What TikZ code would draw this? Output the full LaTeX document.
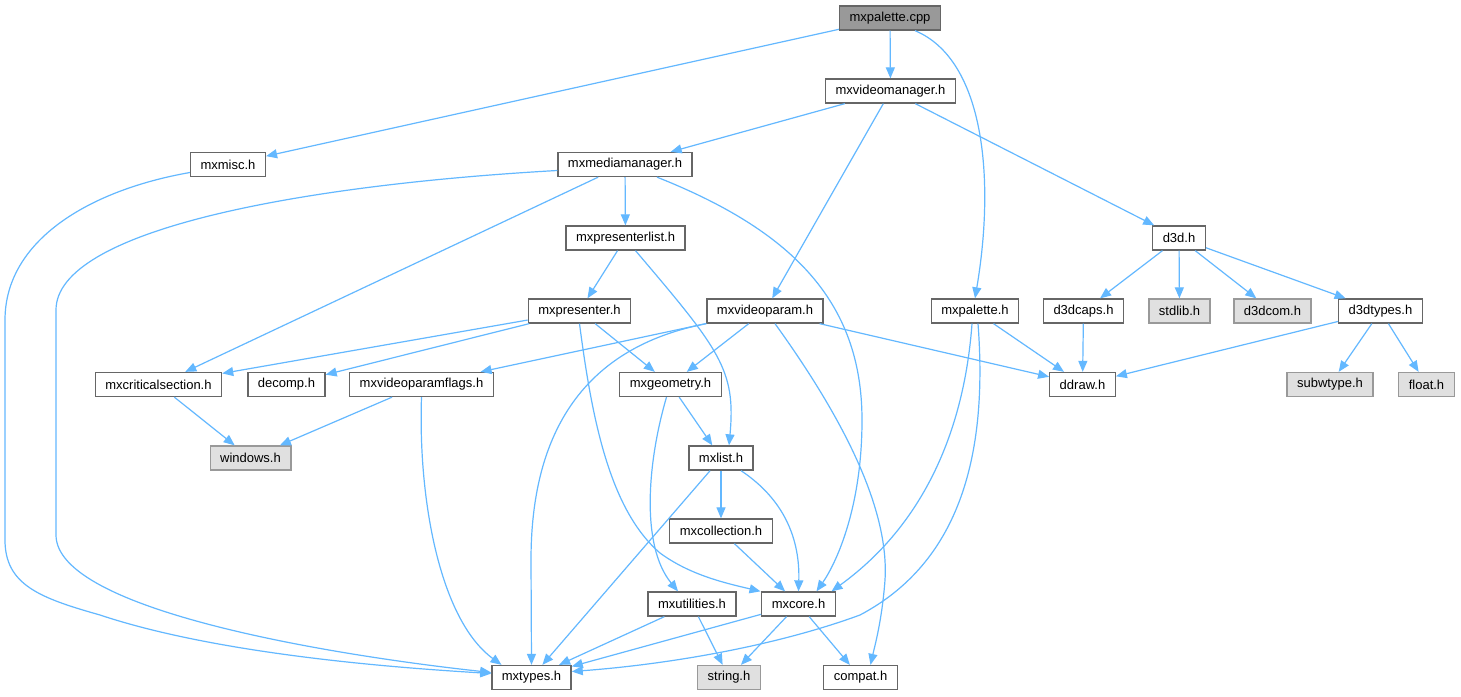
\documentclass[tikz,border=0pt]{standalone}
\usepackage{fontspec}
\setmainfont{Liberation Sans}
\usepackage{tikz}
\usetikzlibrary{arrows.meta}
\definecolor{edgeblue}{HTML}{63B8FF}
\definecolor{boxline}{HTML}{666666}
\definecolor{sysline}{HTML}{999999}
\definecolor{sysfill}{HTML}{E0E0E0}
\definecolor{rootfill}{HTML}{999999}

\begin{document}
\begin{tikzpicture}[x=1pt, y=-1pt,
    hdr/.style={draw=boxline, line width=1.3pt, fill=white, inner xsep=10pt, inner ysep=0pt,
      minimum height=24pt, font=\fontsize{13}{15}\selectfont},
    syshdr/.style={hdr, draw=sysline, fill=sysfill},
    roothdr/.style={hdr, fill=rootfill},
    dep/.style={draw=edgeblue, line width=1.2pt, -{Triangle[length=11pt,width=9pt]}}]
        \fill[white] (0,0) rectangle (1461,696);
        \useasboundingbox (0,0) rectangle (1461,696);
        %% \draw[step=73.3,gray,very thin] (0,18) grid (1461,696);
        \node[roothdr] (cpp)     at ( 890   ,  18   ) {mxpalette.cpp};
        \node[hdr]     (vman)    at ( 890.5 ,  91   ) {mxvideomanager.h};
        \node[hdr]     (misc)    at ( 228   , 164.5 ) {mxmisc.h};
        \node[hdr]     (mm)      at ( 625   , 164.5 ) {mxmediamanager.h};
        \node[hdr]     (plist)   at ( 625.5 , 238   ) {mxpresenterlist.h};
        \node[hdr]     (dthree)  at (1179   , 238   ) {d3d.h};
        \node[hdr]     (pres)    at ( 579.5 , 311   ) {mxpresenter.h};
        \node[hdr]     (vparam)  at ( 765   , 311   ) {mxvideoparam.h};
        \node[hdr]     (pal)     at ( 975   , 311   ) {mxpalette.h};
        \node[hdr]     (dcaps)   at (1083.5 , 311   ) {d3dcaps.h};
        \node[syshdr]  (stdlib)  at (1179.5 , 311   ) {stdlib.h};
        \node[syshdr]  (dcom)    at (1272.5 , 311   ) {d3dcom.h};
        \node[hdr]     (dtypes)  at (1380.5 , 311   ) {d3dtypes.h};
        \node[hdr]     (crit)    at ( 158.5 , 384.5 ) {mxcriticalsection.h};
        \node[hdr]     (decomp)  at ( 286.5 , 384.5 ) {decomp.h};
        \node[hdr]     (vpflags) at ( 421.5 , 384.5 ) {mxvideoparamflags.h};
        \node[hdr]     (geom)    at ( 670.5 , 384.5 ) {mxgeometry.h};
        \node[hdr]     (ddraw)   at (1082.5 , 384.5 ) {ddraw.h};
        \node[syshdr]  (subw)    at (1330   , 384.5 ) {subwtype.h};
        \node[syshdr]  (flt)     at (1426.5 , 384.5 ) {float.h};
        \node[syshdr]  (win)     at ( 250.5 , 458   ) {windows.h};
        \node[hdr]     (list)    at ( 721   , 458   ) {mxlist.h};
        \node[hdr]     (coll)    at ( 721   , 531   ) {mxcollection.h};
        \node[hdr]     (util)    at ( 692   , 604   ) {mxutilities.h};
        \node[hdr]     (core)    at ( 798.5 , 604   ) {mxcore.h};
        \node[hdr]     (types)   at ( 531.5 , 677.5 ) {mxtypes.h};
        \node[syshdr]  (str)     at ( 729   , 677.5 ) {string.h};
        \node[hdr]     (compat)  at ( 860.5 , 677.5 ) {compat.h};

        \draw[dep] (cpp) -- (misc);
        \draw[dep] (cpp) -- (vman);
        \draw[dep] ([xshift=25pt]cpp.south) .. controls (985,60) and (995,180) .. (pal.north);
        \draw[dep] (vman) -- (mm);
        \draw[dep] (vman) -- (vparam);
        \draw[dep] (vman) -- (dthree);
        \draw[dep] ([yshift=-8pt]misc.west) .. controls (90,190) and (5,240) .. (5,320) -- (5,540)
            .. controls (5,585) and (40,598) .. (100,615) .. controls (220,655) and (400,668) .. ([yshift=4pt]types.west);
        \draw[dep] ([yshift=-6pt]mm.west) .. controls (300,185) and (56,230) .. (56,310) -- (56,535)
            .. controls (56,610) and (330,655) .. ([yshift=5pt]types.west);
        \draw[dep] (mm) -- (crit);
        \draw[dep] (mm) -- (plist);
        \draw[dep] ([xshift=32pt]mm.south) .. controls (790,230) and (862,300) .. (862,420)
            .. controls (862,510) and (835,565) .. ([xshift=18pt]core.north);
        \draw[dep] (plist) -- (pres);
        \draw[dep] ([xshift=10pt]plist.south) .. controls (720,350) and (736,370) .. ([xshift=8pt]list.north);
        \draw[dep] (dthree) -- (dcaps);
        \draw[dep] (dthree) -- (stdlib);
        \draw[dep] (dthree) -- (dcom);
        \draw[dep] (dthree) -- (dtypes);
        \draw[dep] (pres) -- (crit);
        \draw[dep] (pres) -- (decomp);
        \draw[dep] (pres) -- (geom);
        \draw[dep] (pres.south) .. controls (592,420) and (610,510) .. (660,553)
            .. controls (690,575) and (725,583) .. ([xshift=-38pt]core.north);
        \draw[dep] (vparam) -- (vpflags);
        \draw[dep] (vparam) -- (geom);
        \draw[dep] (vparam.south west) .. controls (570,350) and (531,450) .. (531,560) -- (types.north);
        \draw[dep] ([xshift=10pt]vparam.south) .. controls (830,400) and (890,500) .. (885,580)
            .. controls (882,620) and (875,645) .. ([xshift=10pt]compat.north);
        \draw[dep] (vparam) -- (ddraw);
        \draw[dep] (pal) -- (ddraw);
        \draw[dep] ([xshift=-3pt]pal.south) .. controls (965,420) and (930,520) .. ([xshift=33pt]core.north);
        \draw[dep] ([xshift=3pt]pal.south) .. controls (990,480) and (945,570) .. (860,615)
            .. controls (770,648) and (660,665) .. ([yshift=6pt]types.east);
        \draw[dep] (dcaps) -- (ddraw);
        \draw[dep] (dtypes) -- (ddraw);
        \draw[dep] (dtypes) -- (subw);
        \draw[dep] (dtypes) -- (flt);
        \draw[dep] (crit) -- (win);
        \draw[dep] (vpflags) -- (win);
        \draw[dep] (vpflags.south) .. controls (418,500) and (440,620) .. ([xshift=-30pt]types.north);
        \draw[dep] (geom) -- (list);
        \draw[dep] ([xshift=-4pt]geom.south) .. controls (648,460) and (640,545) .. ([xshift=-14pt]util.north);
        \draw[dep] (list) -- (coll);
        \draw[dep] ([xshift=20pt]list.south) .. controls (785,500) and (800,540) .. (core.north);
        \draw[dep] (list) -- (types);
        \draw[dep] (coll) -- (core);
        \draw[dep] (util) -- (types);
        \draw[dep] (util) -- (str);
        \draw[dep] (core) -- (types);
        \draw[dep] (core) -- (str);
        \draw[dep] (core) -- (compat);
      \end{tikzpicture}
\end{document}
